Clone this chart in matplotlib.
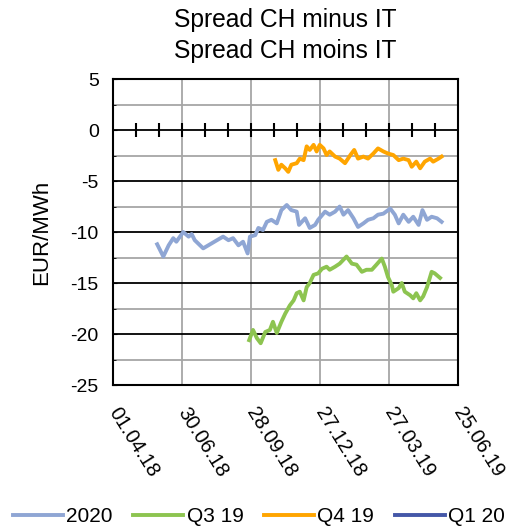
import datetime as dt
import matplotlib
matplotlib.use('Agg')
import matplotlib.pyplot as plt
from matplotlib.ticker import MultipleLocator, FuncFormatter

plt.rcParams['font.family'] = ['Liberation Sans', 'DejaVu Sans']
plt.rcParams['axes.unicode_minus'] = False

start = dt.date(2018, 4, 1)

# days since 01.04.18, values in EUR/MWh
days_2020 = [58, 66, 73, 79, 83, 92, 99, 103, 107, 118, 127, 136, 144, 151, 157,
             164, 170, 176, 179, 186, 190, 196, 201, 207, 214, 220, 227, 233, 240,
             243, 251, 257, 264, 268, 277, 283, 290, 296, 301, 307, 314, 320, 327,
             333, 340, 346, 353, 362, 368, 373, 379, 386, 392, 399, 404, 410, 416,
             423, 429]
vals_2020 = [-11.2, -12.4, -11.3, -10.6, -10.95, -10.0, -10.45, -10.2, -10.8, -11.6,
             -11.2, -10.8, -10.45, -10.8, -10.6, -11.3, -10.95, -12.1, -10.45, -10.3,
             -9.6, -9.8, -9.0, -8.8, -9.15, -7.85, -7.35, -7.85, -8.0, -9.3, -8.65,
             -9.6, -9.3, -8.8, -8.0, -8.3, -8.0, -7.5, -8.3, -7.85, -8.65, -9.5,
             -9.15, -8.8, -8.65, -8.3, -8.2, -7.7, -8.3, -9.15, -8.3, -9.0, -8.5,
             -9.3, -7.85, -8.8, -8.5, -8.65, -9.0]

days_q319 = [178, 183, 188, 193, 199, 205, 209, 214, 220, 225, 231, 236, 240, 244,
             249, 253, 257, 262, 268, 273, 279, 283, 290, 296, 305, 312, 318, 325,
             331, 338, 344, 351, 355, 359, 364, 366, 373, 377, 381, 388, 392, 396,
             401, 405, 410, 416, 420, 427]
vals_q319 = [-20.6, -19.6, -20.4, -20.9, -19.8, -19.6, -18.8, -19.9, -18.8, -18.0,
             -17.2, -16.7, -16.0, -15.85, -16.7, -15.4, -15.0, -14.2, -14.05, -13.6,
             -13.4, -13.7, -13.4, -13.1, -12.4, -13.1, -13.2, -13.9, -13.7, -13.7,
             -13.2, -12.6, -13.4, -14.4, -15.2, -15.85, -15.5, -15.0, -15.85, -16.2,
             -16.5, -16.0, -16.7, -16.3, -15.4, -13.9, -14.05, -14.5]

days_q419 = [212, 216, 220, 225, 229, 233, 240, 244, 249, 253, 257, 262, 266, 270,
             275, 279, 283, 290, 296, 303, 310, 315, 320, 327, 333, 340, 346, 353,
             359, 366, 373, 379, 386, 390, 396, 401, 407, 414, 418, 425, 429]
vals_q419 = [-2.95, -3.9, -3.4, -3.75, -4.1, -3.4, -3.25, -2.8, -2.95, -1.6, -1.95,
             -1.45, -2.1, -1.45, -1.8, -2.45, -2.1, -2.6, -2.8, -3.25, -2.45, -1.95,
             -2.8, -2.6, -2.8, -2.3, -1.8, -2.1, -2.3, -2.45, -2.95, -2.8, -2.95,
             -3.6, -3.1, -3.75, -3.1, -2.8, -3.1, -2.8, -2.6]

days_q120 = []
vals_q120 = []

series = [
    ('2020', days_2020, vals_2020, '#8fa6d4'),
    ('Q3 19', days_q319, vals_q319, '#8dc450'),
    ('Q4 19', days_q419, vals_q419, '#ffa500'),
    ('Q1 20', days_q120, vals_q120, '#4457a8'),
]

rect = [0.2176, 0.2694, 0.666, 0.5806]
fig = plt.figure(figsize=(5.18, 5.27), dpi=100)
ax = fig.add_axes(rect)

for name, d, v, c in series:
    ax.plot(d, v, color=c, lw=2.8, label=name, zorder=3)

ax.set_xlim(0, 450)
ax.set_ylim(-25, 5)
ax.set_yticks(range(-25, 6, 5))
ax.yaxis.set_minor_locator(MultipleLocator(2.5))
ax.set_xticks(range(0, 451, 90))
ax.xaxis.set_major_formatter(FuncFormatter(
    lambda x, pos: (start + dt.timedelta(days=int(round(x)))).strftime('%d.%m.%y')))

ax.grid(which='major', axis='y', color='black', lw=1.3)
ax.grid(which='minor', axis='y', color='#a6a6a6', lw=1.3)
ax.grid(which='major', axis='x', color='#a6a6a6', lw=1.3)
ax.set_axisbelow(True)
for s in ax.spines.values():
    s.set_linewidth(1.5)

ax.tick_params(axis='x', length=0, pad=17, labelsize=14.5)
ax.tick_params(axis='y', which='major', direction='in', length=3, labelsize=14, pad=10)
ax.tick_params(axis='y', which='minor', direction='in', length=2)
for lab in ax.get_xticklabels():
    lab.set_rotation(-58)
    lab.set_ha('left')
    lab.set_va('center')
    lab.set_rotation_mode('anchor')

# overlay that draws the zero line with its monthly ticks
zero_ax = fig.add_axes(rect, frameon=False, zorder=5)
zero_ax.set_xlim(0, 450)
zero_ax.set_ylim(-25, 5)
zero_ax.patch.set_visible(False)
zero_ax.spines['bottom'].set_visible(True)
zero_ax.spines['bottom'].set_position(('data', 0))
zero_ax.spines['bottom'].set_linewidth(1.5)
zero_ax.set_xticks(range(30, 450, 30))
zero_ax.set_yticks([])
zero_ax.tick_params(axis='x', direction='inout', length=10, width=1.5,
                    labelbottom=False)

ax.set_ylabel('EUR/MWh', fontsize=16, labelpad=13)
ax.set_title('Spread CH minus IT\nSpread CH moins IT', fontsize=17.7, pad=15,
             linespacing=1.38)

fig.legend(*ax.get_legend_handles_labels(), loc='center', ncol=4, frameon=False,
           bbox_to_anchor=(0.5, 1 - 517 / 527), fontsize=15, handlelength=2.4,
           columnspacing=1.0, handletextpad=0.15)

fig.savefig('out.png', dpi=100)
